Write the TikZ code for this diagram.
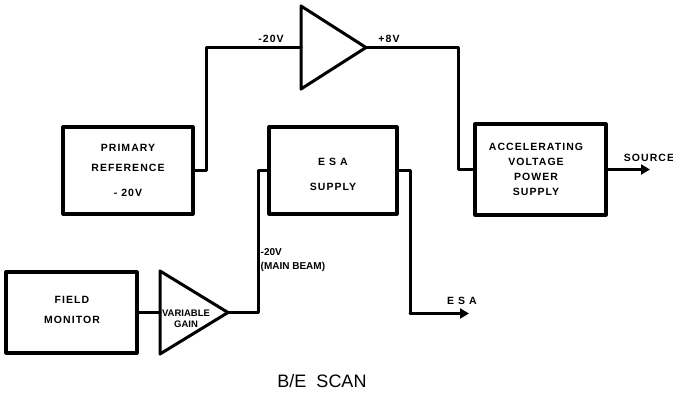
\documentclass[tikz,border=0pt]{standalone}
\usepackage{fontspec}
\setmainfont{Liberation Sans}
\newfontfamily\lblfont[LetterSpace=10]{Liberation Sans}
\usetikzlibrary{arrows.meta}
\begin{document}
\begin{tikzpicture}[x=1pt,y=-1pt,
  wire/.style={line width=3pt,line join=round,line cap=round},
  box/.style={draw,line width=3.2pt,inner sep=0pt,line join=round},
  lbl/.style={font=\lblfont\bfseries\fontsize{10.5}{15}\selectfont,inner sep=0pt,align=center},
  small/.style={font=\bfseries\fontsize{9.5}{10.5}\selectfont,inner sep=0pt,align=center},
  arr/.style={wire,-{Triangle[length=9pt,width=10pt]}}]
\useasboundingbox (0,0) rectangle (673,396);
% boxes
\node[box,minimum width=130pt,minimum height=87pt] (pr) at (128,170.5) {};
\node[box,minimum width=128pt,minimum height=87pt] (esa) at (333,170.5) {};
\node[box,minimum width=131pt,minimum height=91pt] (avps) at (540.5,169.5) {};
\node[box,minimum width=131pt,minimum height=81pt] (fm) at (71.5,312.5) {};
% box texts
\node[lbl] (prt1) at (128,148) {PRIMARY};
\node[lbl] (prt2) at (128,168) {REFERENCE};
\node[lbl] (prt3) at (128,193) {- 20V};
\node[lbl] (esat1) at (333,162) {E S A};
\node[lbl] (esat2) at (333,187) {SUPPLY};
\node[lbl] (avt) at (536,169.5) {ACCELERATING\\VOLTAGE\\POWER\\SUPPLY};
\node[lbl] (fmt1) at (72,300) {FIELD};
\node[lbl] (fmt2) at (72,320) {MONITOR};
% amplifier triangles
\coordinate (a1in) at (301,47.5);
\coordinate (a1out) at (366,47.5);
\draw[wire] (301,6) -- (a1out) -- (301,89) -- cycle;
\coordinate (vgin) at (160,312.5);
\coordinate (vgout) at (228,312.5);
\draw[wire] (160,271) -- (vgout) -- (160,354) -- cycle;
\node[small] (vgt) at (186,319) {VARIABLE\\GAIN};
% connectors
\coordinate (j0) at (206,170.5);
\draw[wire] (pr.east) -- (j0) |- (a1in);
\coordinate (j3) at (458,47.5);
\draw[wire] (a1out) -- (j3) |- (avps.west);
\coordinate (srcend) at (650,169.5);
\draw[arr] (avps.east) -- (srcend);
\draw[wire] (fm.east) -- (vgin);
\coordinate (j1) at (258,312.5);
\draw[wire] (vgout) -- (j1) |- (esa.west);
\coordinate (j2) at (410,313.5);
\coordinate (esaend) at (469,313.5);
\draw[wire] (esa.east) -| (j2);
\draw[arr] (j2) -- (esaend);
% labels
\node[lbl] (l20) at (271,39) {-20V};
\node[lbl] (l8) at (389,39) {+8V};
\node[lbl] (lsrc) at (649,158) {SOURCE};
\node[lbl] (lesa) at (462,301) {E S A};
\node[lbl,align=left,anchor=west,font=\bfseries\fontsize{10}{14}\selectfont] (lmain) at (260.5,260) {-20V\\(MAIN BEAM)};
\node[font=\fontsize{18}{18}\selectfont,inner sep=0pt] (title) at (322,381) {B/E\ \ SCAN};
\end{tikzpicture}
\end{document}
